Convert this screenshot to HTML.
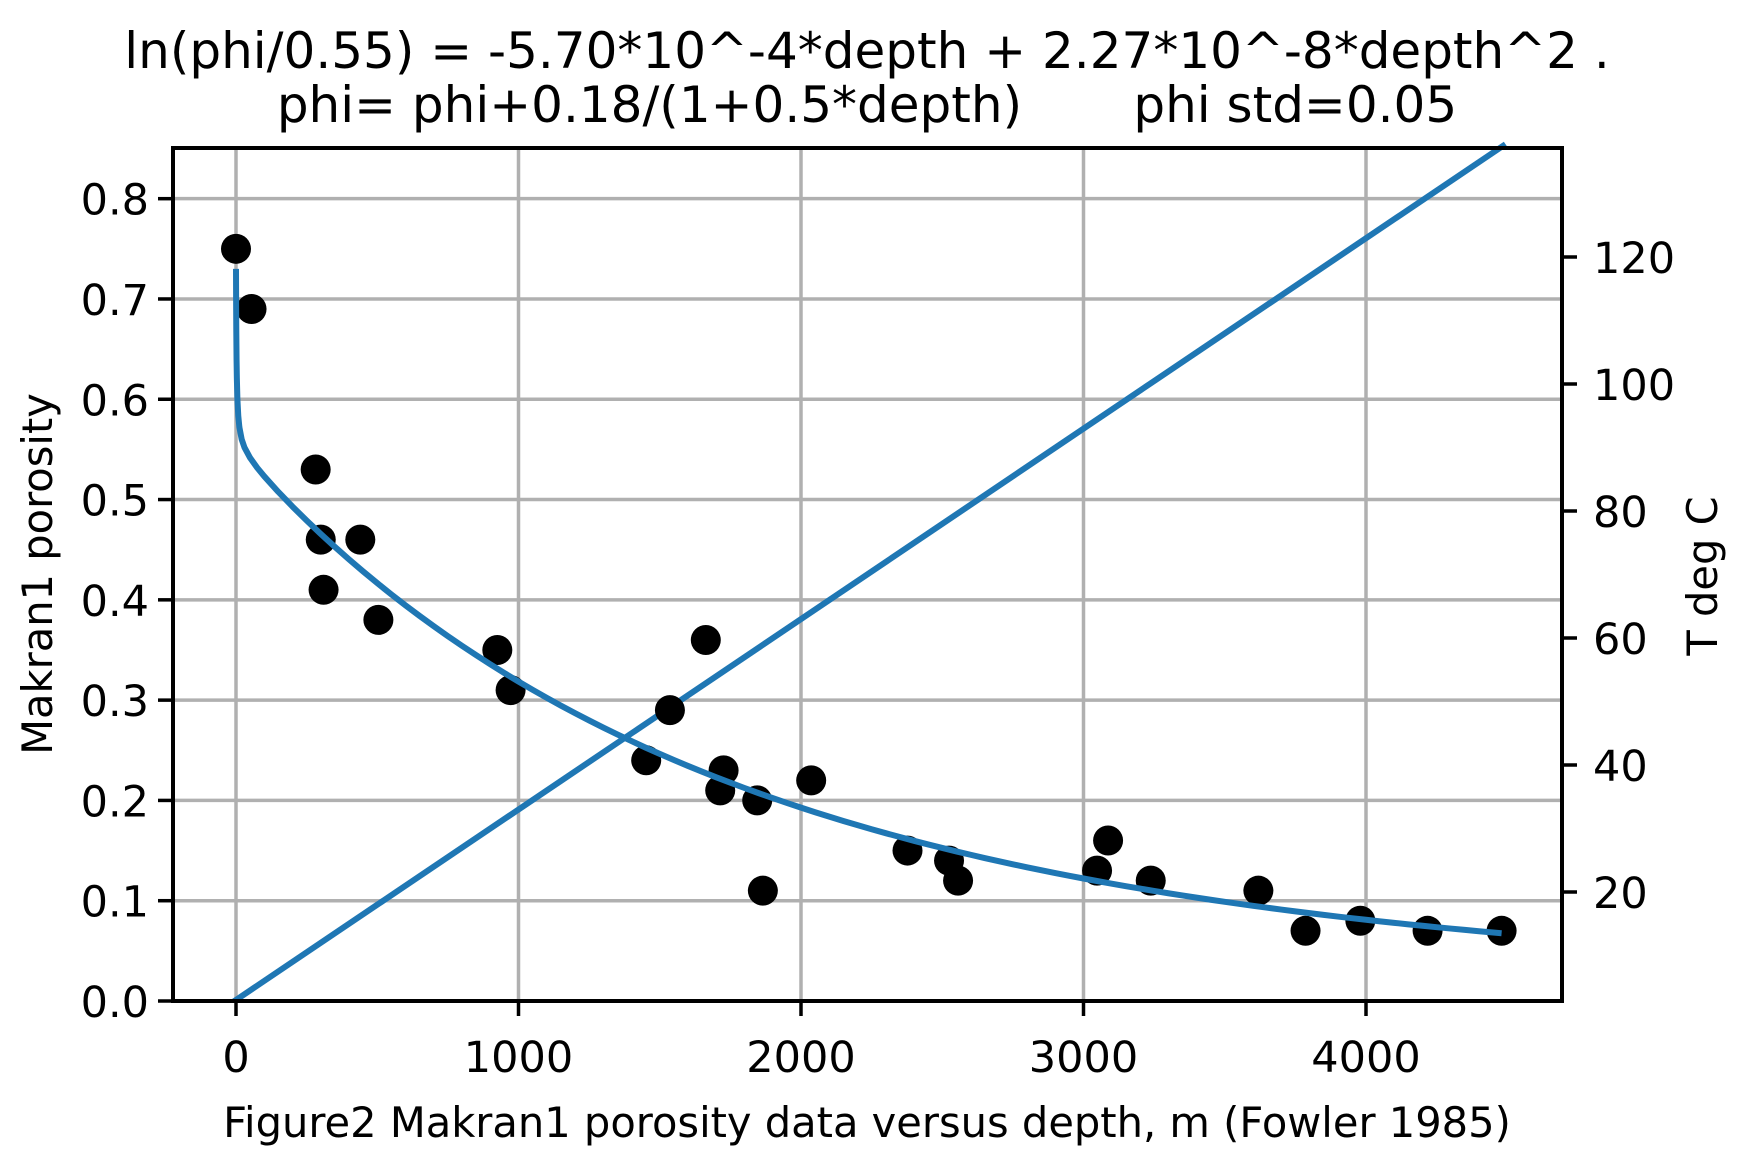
<!DOCTYPE html>
<html><head><meta charset="utf-8"><style>
html,body{margin:0;padding:0;background:#fff}
svg{display:block;font-family:"DejaVu Sans","Liberation Sans",sans-serif}
</style></head><body>
<svg id="chart" width="1754" height="1150" viewBox="0 0 1754 1150" xmlns="http://www.w3.org/2000/svg">
<rect width="1754" height="1150" fill="#fff"/>
<g id="grid"></g>
<g id="series"></g>
<g id="axes"></g>
<text x="867" y="68" font-size="50" text-anchor="middle">ln(phi/0.55) = -5.70*10^-4*depth + 2.27*10^-8*depth^2 .</text>
<text x="867" y="122" font-size="50" text-anchor="middle" xml:space="preserve">phi= phi+0.18/(1+0.5*depth)       phi std=0.05</text>
<text x="867" y="1137" font-size="41.6" text-anchor="middle">Figure2 Makran1 porosity data versus depth, m (Fowler 1985)</text>
<text transform="translate(52,574) rotate(-90)" font-size="41.6" text-anchor="middle">Makran1 porosity</text>
<text transform="translate(1717,576) rotate(-90)" font-size="41.6" text-anchor="middle">T deg C</text>
</svg>
<script>
const depthData = [0,55,282,300,440,310,504,925,972,1452,1536,1663,1726,1714,1845,1865,2036,2377,2524,2556,3048,3087,3238,3619,3786,3980,4218,4480];
const phiData = [0.75,0.69,0.53,0.46,0.46,0.41,0.38,0.35,0.31,0.24,0.29,0.36,0.23,0.21,0.20,0.11,0.22,0.15,0.14,0.12,0.13,0.16,0.12,0.11,0.07,0.08,0.07,0.07];
const modelCoef = [0.55,-5.70e-4,2.27e-8,0.18,0.5];
const modelDepthRange = [0,4480];
const tempDepth = [0,4485];
const tempValues = [3,137.5];
const xTicks = [0,1000,2000,3000,4000];
const yTicks = [0.0,0.1,0.2,0.3,0.4,0.5,0.6,0.7,0.8];
const yTickLabels = ["0.0","0.1","0.2","0.3","0.4","0.5","0.6","0.7","0.8"];
const rTicks = [20,40,60,80,100,120];

const L=173,R=1562,T=148,B=1001;
const X=d=>236+d*0.2825;
const Y=p=>1001-p*1002.9;
const YR=t=>892-(t-20)*6.35;
const NS='http://www.w3.org/2000/svg';
function mk(tag,attrs,parent,txt){const e=document.createElementNS(NS,tag);for(const k in attrs)e.setAttribute(k,attrs[k]);if(txt!==undefined)e.textContent=txt;parent.appendChild(e);return e;}
const grid=document.getElementById('grid'),series=document.getElementById('series'),axes=document.getElementById('axes');

xTicks.forEach(v=>{
  const g=mk('line',{x1:X(v),x2:X(v),y1:T,y2:B,stroke:'#b0b0b0','stroke-width':3.5},grid);
  
  
  const t=mk('line',{x1:X(v),x2:X(v),y1:B,y2:B+15,stroke:'#000','stroke-width':3.5},axes);
  
  
  const l=mk('text',{x:X(v),y:1072,'font-size':43,'text-anchor':'middle'},axes,String(v));
  
  
});
yTicks.forEach((v,i)=>{
  const g=mk('line',{x1:L,x2:R,y1:Y(v),y2:Y(v),stroke:'#b0b0b0','stroke-width':3.5},grid);
  
  
  const t=mk('line',{x1:L-15,x2:L,y1:Y(v),y2:Y(v),stroke:'#000','stroke-width':3.5},axes);
  
  
  const l=mk('text',{x:L-24,y:Y(v)+16,'font-size':43,'text-anchor':'end'},axes,yTickLabels[i]);
  
  
});
rTicks.forEach(v=>{
  const t=mk('line',{x1:R,x2:R+15,y1:YR(v),y2:YR(v),stroke:'#000','stroke-width':3.5},axes);
  
  
  const l=mk('text',{x:R+31,y:YR(v)+16,'font-size':43},axes,String(v));
  
  
});
const frame=mk('rect',{x:L,y:T,width:R-L,height:B-T,fill:'none',stroke:'#000','stroke-width':4},axes);



const tl=mk('line',{x1:X(tempDepth[0]),y1:YR(tempValues[0]),x2:X(tempDepth[1]),y2:YR(tempValues[1]),stroke:'#1f77b4','stroke-width':6,'stroke-linecap':'square'},series);



depthData.forEach((d,i)=>{
  const c=mk('circle',{cx:X(d),cy:Y(phiData[i]),r:15,fill:'#000'},series);
  
  
});

const [a,b1,b2,c1,c2]=modelCoef;
let pts=[];
const ds=[0,0.5,1,2,3,5,8,12,20,30,50,75,100];
for(let d=150;d<=modelDepthRange[1];d+=50)ds.push(d);
if(ds[ds.length-1]!==modelDepthRange[1])ds.push(modelDepthRange[1]);
ds.forEach(d=>{const p=a*Math.exp(b1*d+b2*d*d)+c1/(1+c2*d);pts.push(X(d).toFixed(2)+','+Y(p).toFixed(2));});
const pl=mk('polyline',{points:pts.join(' '),fill:'none',stroke:'#1f77b4','stroke-width':6,'stroke-linejoin':'round'},series);


</script>
</body></html>
